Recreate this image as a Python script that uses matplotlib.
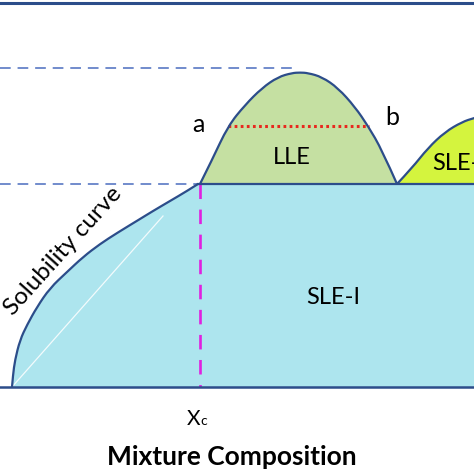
import matplotlib
matplotlib.use("Agg")
import matplotlib.pyplot as plt
from matplotlib.path import Path
from matplotlib.patches import PathPatch

# ---- data (schematic phase diagram, image-like units: x composition, y temperature-down) ----
sol_x = [12, 13, 15, 20, 27, 37, 50, 67, 83, 100, 117, 140, 153, 170, 187, 198]
sol_y = [387, 375, 360, 340, 325, 307, 288, 272, 257, 244, 233, 219, 211, 201, 191, 184]

lle_x = [200, 212, 228, 245, 262, 278, 292, 300, 308, 322, 338, 355, 368, 382, 397]
lle_y = [184, 160, 126, 105, 88, 77, 73, 72.5, 73, 77, 88, 107, 126, 150, 184]

sle2_x = [397, 412, 428, 445, 462, 474, 482]
sle2_y = [184, 168, 148, 132, 122, 118, 116]

x_c = 200
t_eutectic = 184
t_base = 387
t_top = 3
t_crit = 68
tie_line_x = [228, 369]
tie_line_t = 126

LIGHT_BLUE = "#ade5ee"
LLE_GREEN = "#c5e0a2"
SLE2_GREEN = "#d4f43e"
NAVY = "#2c4d8a"
DASH_BLUE = "#4a6cbf"

plt.rcParams['font.family'] = ['Lato', 'DejaVu Sans']


def smooth_path(xs, ys, close_to=None):
    """Quadratic Bezier path through midpoints, read points used as control points."""
    verts = [(xs[0], ys[0])]
    codes = [Path.MOVETO]
    n = len(xs)
    for i in range(1, n - 1):
        mx = (xs[i] + xs[i + 1]) / 2.0
        my = (ys[i] + ys[i + 1]) / 2.0
        if i == n - 2:
            mx, my = xs[i + 1], ys[i + 1]
        verts += [(xs[i], ys[i]), (mx, my)]
        codes += [Path.CURVE3, Path.CURVE3]
    if close_to is not None:
        for p in close_to:
            verts.append(p)
            codes.append(Path.LINETO)
        verts.append((xs[0], ys[0]))
        codes.append(Path.CLOSEPOLY)
    return Path(verts, codes)


fig = plt.figure(figsize=(4.74, 4.74), dpi=100)
ax = fig.add_axes([0, 0, 1, 1])
ax.set_xlim(0, 474)
ax.set_ylim(474, 0)
ax.axis('off')

# SLE-I region
ax.add_patch(PathPatch(smooth_path(sol_x, sol_y, close_to=[(482, t_eutectic), (482, t_base)]),
                       facecolor=LIGHT_BLUE, lw=0, zorder=1))
# faint white diagonal artifact
ax.plot([12, 163], [387, 216], color='white', lw=0.9, alpha=0.85, zorder=2)

# LLE dome
ax.add_patch(PathPatch(smooth_path(lle_x, lle_y, close_to=[]), facecolor=LLE_GREEN, lw=0, zorder=1))
ax.add_patch(PathPatch(smooth_path(lle_x, lle_y), facecolor='none', edgecolor=NAVY, lw=1.6, zorder=4))

# SLE-II dome
ax.add_patch(PathPatch(smooth_path(sle2_x, sle2_y, close_to=[(482, t_eutectic)]),
                       facecolor=SLE2_GREEN, lw=0, zorder=1))
ax.add_patch(PathPatch(smooth_path(sle2_x, sle2_y), facecolor='none', edgecolor=NAVY, lw=1.6, zorder=4))

# solubility curve
ax.add_patch(PathPatch(smooth_path(sol_x, sol_y), facecolor='none', edgecolor=NAVY, lw=1.6, zorder=4))

# horizontal lines
ax.plot([198, 482], [t_eutectic, t_eutectic], color=NAVY, lw=1.6, zorder=4)
ax.plot([-5, 482], [t_base, t_base], color=NAVY, lw=1.8, zorder=4)
ax.plot([-5, 482], [t_top, t_top], color=NAVY, lw=2.2, zorder=4)

# dashed reference lines
ax.plot([0, 198], [t_eutectic, t_eutectic], color=DASH_BLUE, lw=1.1,
        linestyle=(0, (7, 4.5)), zorder=3)
ax.plot([0, 295], [t_crit, t_crit], color=DASH_BLUE, lw=1.1,
        linestyle=(0, (7, 4.5)), zorder=3)

# Xc vertical magenta dashed
ax.plot([x_c, x_c], [t_eutectic, t_base], color='#e020e0', lw=1.9,
        linestyle=(0, (5.5, 4)), zorder=3)

# tie line (red dotted)
ax.plot(tie_line_x, [tie_line_t, tie_line_t], color='#e8281e', lw=2.2,
        linestyle=(0, (0.9, 1.1)), zorder=3)

# labels
ax.text(198, 124, "a", fontsize=18, ha='center', va='center', color='black')
ax.text(392, 117, "b", fontsize=18, ha='center', va='center', color='black')
ax.text(292, 158, "LLE", fontsize=17, ha='center', va='center', color='black', zorder=5)
ax.text(432, 163, "SLE-II", fontsize=17, ha='left', va='center', color='black', zorder=5)
ax.text(333, 297, "SLE-I", fontsize=17, ha='center', va='center', color='black', zorder=5)
ax.text(63, 251, "Solubility curve", fontsize=17.5, rotation=48, rotation_mode='anchor',
        ha='center', va='center', color='black', zorder=5)
ax.text(187, 425, "X", fontsize=15, ha='left', va='baseline', color='black')
ax.text(200.5, 425, "c", fontsize=10, ha='left', va='baseline', color='black')
ax.text(232, 457, "Mixture Composition", fontsize=19, fontweight='bold',
        ha='center', va='center', color='black')

fig.savefig("out.png", dpi=100)
